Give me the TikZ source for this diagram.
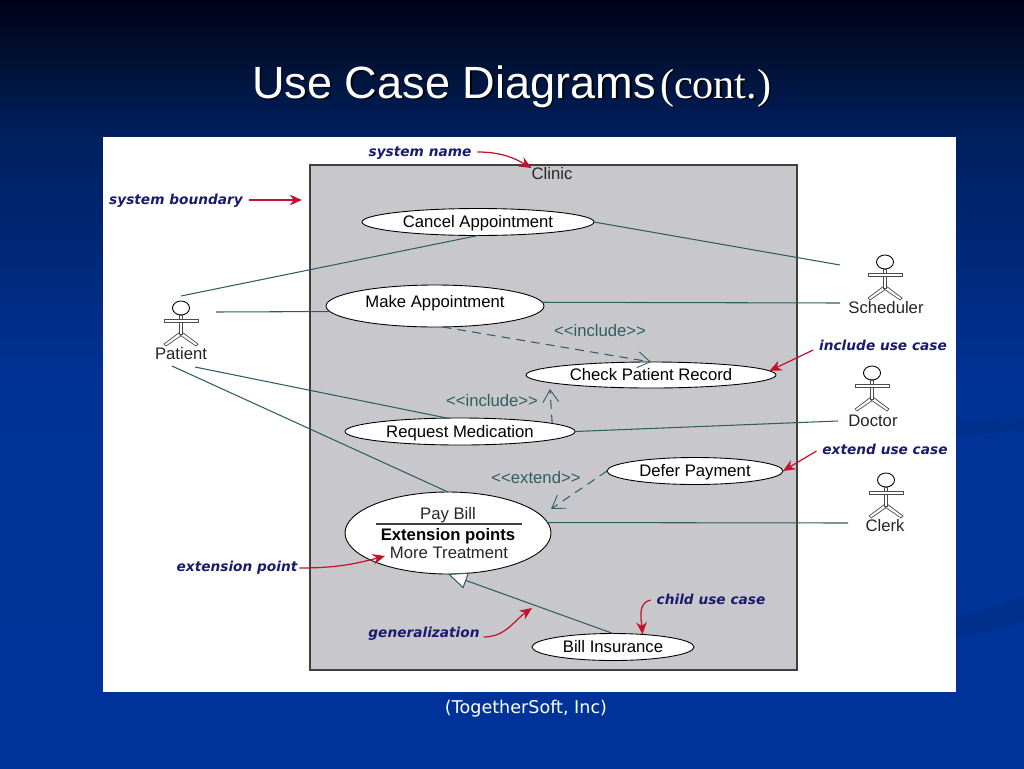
\documentclass[tikz,border=0pt]{standalone}
\usepackage{fontspec}
\setmainfont{Liberation Sans}
\newfontfamily\notefont{DejaVu Sans}
\newfontfamily\creditfont{DejaVu Sans}
\newfontfamily\serifpart{Liberation Serif}
\usetikzlibrary{arrows.meta,shapes.geometric}

\definecolor{panelgray}{HTML}{C8C8CC}
\definecolor{linkteal}{HTML}{2E5E60}
\definecolor{noteblue}{HTML}{1A1A6E}
\definecolor{notered}{HTML}{C4122E}
\definecolor{swoosh}{HTML}{00308C}
\definecolor{backlow}{HTML}{00339A}
\definecolor{backmid}{HTML}{003296}
\definecolor{backhigh}{HTML}{00205F}
\definecolor{backdark}{HTML}{000E2C}
\definecolor{backtop}{HTML}{000018}

\pgfdeclareverticalshading{slideback}{100bp}{
  color(0bp)=(backlow);
  color(25bp)=(backlow);
  color(50bp)=(backmid);
  color(66bp)=(backhigh);
  color(72bp)=(backdark);
  color(75bp)=(backtop);
  color(100bp)=(backtop)}

\begin{document}
\begin{tikzpicture}[x=0.02cm, y=-0.02cm]
\tikzset{ >=latex, inner sep=0pt, outer sep=0pt,
  usecase/.style={draw=black, line width=0.5pt, fill=white, ellipse, font=\fontsize{9.5}{11}\selectfont, text height=6.8pt, text depth=0pt},
  caselabel/.style={font=\fontsize{9.5}{11}\selectfont, text=black!85, text height=6.8pt, text depth=0pt},
  stereo/.style={font=\fontsize{9.5}{11}\selectfont, text=linkteal},
  link/.style={draw=linkteal, line width=0.6pt},
  deplink/.style={link, dashed, dash pattern=on 5pt off 3.5pt, -{Straight Barb[length=7pt,width=9pt,line width=0.5pt]}},
  note/.style={font=\notefont\bfseries\itshape\fontsize{7.8}{9}\selectfont, text=noteblue, text height=5.6pt, text depth=0pt},
  notearrow/.style={draw=notered, line width=0.7pt, -{Stealth[length=7pt,width=6pt]}},
  actorbar/.style={draw=black!70, fill=white, line width=0.4pt},
  actorfig/.pic={
    \draw [line width=0.5pt] (0,0) ellipse (8.5 and 7);
    \draw [actorbar] (-17,36) -- (-1,24) -- (1,27) -- (-15,38) -- cycle;
    \draw [actorbar] (17,36) -- (1,24) -- (-1,27) -- (15,38) -- cycle;
    \draw [actorbar] (-1.5,7) rectangle (1.5,26);
    \draw [actorbar] (-17,11.5) rectangle (17,14.5);
  },
}

\useasboundingbox (0,0) rectangle (1024,768);
\shade [shading=slideback] (0,0) rectangle (1024,768);
\fill [swoosh] (956,422) .. controls (980,421) and (1000,419) .. (1024,417) -- (1024,430) .. controls (1000,432) and (980,434) .. (956,435) -- cycle;
\fill [swoosh] (956,617) .. controls (985,612) and (1005,603) .. (1024,597) -- (1024,622) .. controls (1005,628) and (985,633) .. (956,637) -- cycle;

% title and credit
\node [anchor=base west, text=black, font=\fontsize{25.7}{30}\selectfont] (TitleShade) at (253.5,99.5) {Use Case Diagrams};
\node [anchor=base west, text=white, font=\fontsize{25.7}{30}\selectfont] (Title) at (252,98) {Use Case Diagrams};
\node [anchor=base west, text=black, font=\serifpart\fontsize{24}{28}\selectfont] (ContShade) at (661.5,99.5) {(cont.)};
\node [anchor=base west, text=white, font=\serifpart\fontsize{24}{28}\selectfont] (Cont) at (660,98) {(cont.)};
\node [text=white, font=\creditfont\fontsize{10}{12}\selectfont] (Credit) at (526,709) {(TogetherSoft, Inc)};

% panel and system box
\fill [white] (103,137) rectangle (956,692);
\draw [fill=panelgray, draw=black!75, line width=0.6pt] (310,165) rectangle (797,670);
\node [caselabel] (Clinic) at (552,174) {Clinic};

% use cases
\node [usecase, minimum width=4.64cm, minimum height=0.54cm] (Cancel) at (478,222) {Cancel Appointment};
\node [usecase, minimum width=4.36cm, minimum height=0.84cm] (Make) at (435,306) {\raisebox{2.8pt}{Make Appointment}};
\node [usecase, minimum width=5.00cm, minimum height=0.52cm] (Check) at (651,375) {Check Patient Record};
\node [usecase, minimum width=4.60cm, minimum height=0.54cm] (Request) at (460,431.5) {Request Medication};
\node [usecase, minimum width=3.52cm, minimum height=0.54cm] (Defer) at (695,471) {Defer Payment};
\node [usecase, minimum width=4.12cm, minimum height=1.64cm] (Pay) at (448,533) {};
\node [usecase, minimum width=3.24cm, minimum height=0.54cm] (Insurance) at (613,647) {Bill Insurance};

\node [caselabel] (PayName) at (448,514) {Pay Bill};
\coordinate (RuleL) at (376,524);
\coordinate (RuleR) at (522,524);
\draw [black!75, line width=0.6pt] (RuleL) -- (RuleR);
\node [caselabel, font=\bfseries\fontsize{9.5}{11}\selectfont, text=black] (PayExt) at (448,535) {Extension points};
\node [caselabel] (PayMore) at (449,553) {More Treatment};

% actors
\pic at (181,308) {actorfig};
\pic at (885,262) {actorfig};
\pic at (872,373) {actorfig};
\pic at (886,480) {actorfig};
\node [caselabel] (Patient) at (181,354) {Patient};
\node [caselabel] (Scheduler) at (886,308) {Scheduler};
\node [caselabel] (Doctor) at (873,421) {Doctor};
\node [caselabel] (Clerk) at (885,526) {Clerk};

% free line ends near the actors
\coordinate (PatientA) at (181,296);
\coordinate (PatientB) at (216,312);
\coordinate (PatientC) at (195,367);
\coordinate (PatientD) at (172,366);
\coordinate (SchedA) at (840,265);
\coordinate (SchedB) at (840,303);
\coordinate (DoctorA) at (838,421);
\coordinate (ClerkA) at (848,523);
\coordinate (TipInclude) at (550,389);
\coordinate (TipExtend) at (551,509);

\draw [link] (PatientA) -- (Cancel.south);
\draw [link] (Cancel.east) -- (SchedA);
\draw [link] (PatientB) -- (Make.183);
\draw [link] (Make.2) -- (SchedB);
\draw [link] (PatientC) -- (Request.134);
\draw [link] (Request.east) -- (DoctorA);
\draw [link] (PatientD) -- (Pay.north);
\draw [link] (Pay.6) -- (ClerkA);

\draw [deplink] (Make.290) -- (Check.north);
\draw [deplink] (Request.5) -- (TipInclude);
\draw [deplink] (Defer.west) -- (TipExtend);
\draw [link, -{Triangle[open, fill=white, length=11pt, width=9.5pt]}] (Insurance.north) -- (Pay.south);

\node [stereo] (IncludeA) at (600,331) {<{}<include>{}>};
\node [stereo] (IncludeB) at (492,401) {<{}<include>{}>};
\node [stereo] (ExtendA) at (536,478) {<{}<extend>{}>};

% callouts
\node [note] (NoteName) at (420,152) {system name};
\node [note] (NoteBoundary) at (176,200) {system boundary};
\node [note] (NoteInclude) at (883,346) {include use case};
\node [note] (NoteExtend) at (885,450) {extend use case};
\node [note] (NotePoint) at (237,567) {extension point};
\node [note] (NoteGeneral) at (424,633) {generalization};
\node [note] (NoteChild) at (711,600) {child use case};

\coordinate (AimBoundary) at (302,200);
\coordinate (AimPoint) at (385,556);
\coordinate (AimGeneral) at (532,608);

\draw [notearrow] (NoteName.east) ++(6,0) to [out=0, in=150] (Clinic.north west);
\draw [notearrow] (NoteBoundary.east) ++(6,0) -- (AimBoundary);
\draw [notearrow] (NoteInclude.west) ++(-6,4) -- (Check.2);
\draw [notearrow] (NoteExtend.west) ++(-6,1) -- (Defer.east);
\draw [notearrow] (NotePoint.east) ++(2,1) to [out=0, in=195] (AimPoint);
\draw [notearrow] (NoteGeneral.east) ++(4,4) to [out=0, in=215] (AimGeneral);
\draw [notearrow] (NoteChild.west) ++(-6,0) to [out=190, in=95] (Insurance.23);
\end{tikzpicture}
\end{document}
